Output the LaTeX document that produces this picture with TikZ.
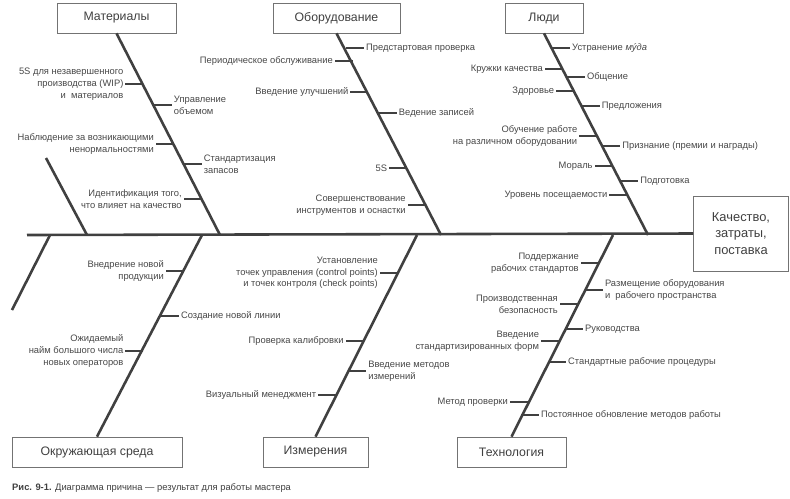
\documentclass[tikz,border=0pt]{standalone}
\usepackage{fontspec}
\setmainfont{Liberation Sans}
\begin{document}
\begin{tikzpicture}[x=0.03cm,y=-0.03cm,
  bone/.style={draw=black!75,line width=2.2pt},
  tick/.style={draw=black!75,line width=1.6pt},
  box/.style={draw=black!55,line width=0.6pt,minimum height=30*0.03cm,font=\fontsize{10.5}{12}\selectfont,text=black!75},
  lbl/.style={font=\fontsize{8}{10}\selectfont,text=black!72,inner sep=1.5pt},
  L/.style={lbl,anchor=east,align=right},
  R/.style={lbl,anchor=west,align=left}]
\useasboundingbox (0,0) rectangle (790,498);
\newcommand\ribL[4]{\coordinate (#1b) at (#2,#3);\node[L] (#1) at (#2-18,#3) {#4};\draw[tick] (#1b) -- (#1.east);}
\newcommand\ribR[4]{\coordinate (#1b) at (#2,#3);\node[R] (#1) at (#2+18,#3) {#4};\draw[tick] (#1b) -- (#1.west);}
% boxes
\node[box,minimum width=119*0.03cm] (mat) at (116.5,18) {Материалы};
\node[box,minimum width=127*0.03cm] (eq) at (336.5,18) {Оборудование};
\node[box,minimum width=78*0.03cm] (ppl) at (544,18) {Люди};
\node[box,minimum width=170*0.03cm] (env) at (97,452) {Окружающая среда};
\node[box,minimum width=105*0.03cm] (meas) at (315.5,452) {Измерения};
\node[box,minimum width=109*0.03cm] (tech) at (511.5,452) {Технология};
\node[box,minimum width=95*0.03cm,minimum height=75*0.03cm,align=center,font=\fontsize{11}{14}\selectfont] (eff) at (741,233.5) {Качество,\\затраты,\\поставка};
% spine and bones
\coordinate (s0) at (27,235);
\draw[bone] (s0) -- (eff.west);
\coordinate (m1) at (220,235); \draw[bone] (mat.south) -- (m1);
\coordinate (e1) at (441,235); \draw[bone] (eq.south) -- (e1);
\coordinate (p1) at (648,235); \draw[bone] (ppl.south) -- (p1);
\coordinate (x0) at (46,158); \coordinate (x1) at (87,235); \draw[bone] (x0) -- (x1);
\coordinate (y0) at (50,235); \coordinate (y1) at (12,310); \draw[bone] (y0) -- (y1);
\coordinate (v1) at (202,235); \draw[bone] (v1) -- (env.north);
\coordinate (u1) at (417,235); \draw[bone] (u1) -- (meas.north);
\coordinate (t1) at (613,235); \draw[bone] (t1) -- (tech.north);
% Материалы
\ribL{a1}{143.4}{84}{5S для незавершенного\\производства (WIP)\\и\ \ материалов}
\ribR{a2}{154}{105}{Управление\\объемом}
\ribL{a3}{173.8}{144}{Наблюдение за возникающими\\ненормальностями}
\ribR{a4}{183.9}{164}{Стандартизация\\запасов}
\ribL{a5}{201.7}{199}{Идентификация того,\\что влияет на качество}
% Оборудование
\ribR{b1}{346.1}{48}{Предстартовая проверка}
\ribL{b2}{352.7}{61}{Периодическое обслуживание}
\ribL{b3}{368.4}{92}{Введение улучшений}
\ribR{b4}{379}{113}{Ведение записей}
\ribL{b5}{407}{168}{5S}
\ribL{b6}{425.7}{205}{Совершенствование\\инструментов и оснастки}
% Люди
\ribR{c1}{552.2}{48}{Устранение \textit{мýда}}
\ribL{c2}{562.9}{69}{Кружки качества}
\ribR{c3}{567}{77}{Общение}
\ribL{c4}{574.2}{91}{Здоровье}
\ribR{c5}{581.9}{106}{Предложения}
\ribL{c6}{597.2}{136}{Обучение работе\\на различном оборудовании}
\ribR{c7}{602.3}{146}{Признание (премии и награды)}
\ribL{c8}{612.6}{166}{Мораль}
\ribR{c9}{620.3}{181}{Подготовка}
\ribL{c10}{627.4}{195}{Уровень посещаемости}
% Окружающая среда
\ribL{d1}{183.8}{271}{Внедрение новой\\продукции}
\ribR{d2}{161.1}{316}{Создание новой линии}
\ribL{d3}{143.4}{351}{Ожидаемый\\найм большого числа\\новых операторов}
% Измерения
\ribL{f1}{397.8}{273}{Установление\\точек управления (control points)\\и точек контроля (check points)}
\ribL{f2}{363.5}{341}{Проверка калибровки}
\ribR{f3}{348.3}{371}{Введение методов\\измерений}
\ribL{f4}{336.2}{395}{Визуальный менеджмент}
% Технология
\ribL{g1}{598.7}{263}{Поддержание\\рабочих стандартов}
\ribR{g2}{585}{290}{Размещение оборудования\\и\ \ рабочего пространства}
\ribL{g3}{577.8}{304}{Производственная\\безопасность}
\ribR{g4}{565.1}{329}{Руководства}
\ribL{g5}{559}{341}{Введение\\стандартизированных форм}
\ribR{g6}{548.2}{362}{Стандартные рабочие процедуры}
\ribL{g7}{527.8}{402}{Метод проверки}
\ribR{g8}{521.2}{415}{Постоянное обновление методов работы}
% caption
\node[anchor=west,inner sep=0pt,font=\fontsize{8}{10}\selectfont,text=black!75] (cap) at (12,488) {\textbf{Рис. 9-1.} Диаграмма причина — результат для работы мастера};
\end{tikzpicture}
\end{document}
